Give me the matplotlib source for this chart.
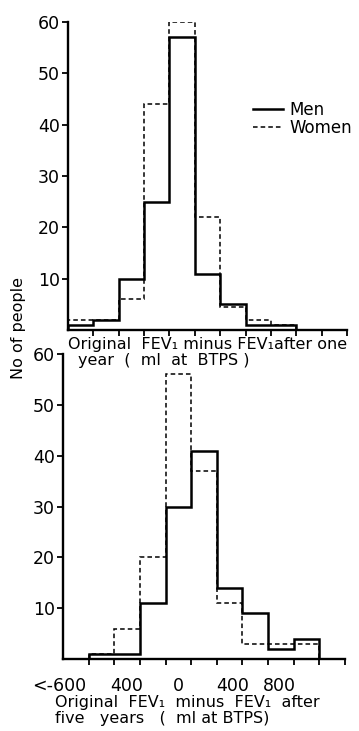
import matplotlib
matplotlib.use('Agg')
from matplotlib import pyplot as plt

# bin edges in ml (200 ml bins)
top_edges = [-900, -700, -500, -300, -100, 100, 300, 500, 700, 900]
top_men = [1, 2, 10, 25, 57, 11, 5, 1, 1]
top_women = [2, 2, 6, 44, 60, 22, 4.5, 2, 1]

bot_edges = [-700, -500, -300, -100, 100, 300, 500, 700, 900, 1100]
bot_men = [1, 1, 11, 30, 41, 14, 9, 2, 4]
bot_women = [1, 6, 20, 56, 37, 11, 3, 3, 3]

x_ticks = [-700, -500, -300, -100, 100, 300, 500, 700, 900, 1100, 1300]
x_labels_pos = [-930, -400, 0, 420, 790]
x_labels = ['<-600', '400', '0', '400', '800']
y_ticks = [10, 20, 30, 40, 50, 60]

plt.rcParams['font.family'] = ['DejaVu Sans']
fig = plt.figure(figsize=(3.59, 7.31), dpi=100)

ax1 = fig.add_axes([68 / 359, 1 - 330 / 731, (347 - 68) / 359, (330 - 22) / 731])
ax2 = fig.add_axes([63 / 359, 1 - 659 / 731, (345 - 63) / 359, (659 - 354) / 731])

for ax in (ax1, ax2):
    for s in ('top', 'right'):
        ax.spines[s].set_visible(False)
    ax.spines['left'].set_linewidth(1.7)
    ax.spines['bottom'].set_linewidth(1.7)
    ax.set_xlim(-900, 1300)
    ax.set_ylim(0, 60)
    ax.set_yticks(y_ticks)
    ax.tick_params(axis='both', width=1.3, length=4, labelsize=12.5, pad=2)
    ax.patch.set_visible(False)

dash = (0, (3, 2))
ax1.stairs(top_women, top_edges, color='black', lw=1.1, ls=dash)
ax1.stairs(top_men, top_edges, color='black', lw=1.8, label='Men')
ax1.set_xticks(x_ticks)
ax1.set_xticklabels([])
ax1.plot([], [], color='black', lw=1.1, ls=dash, label='Women')
handles, labels = ax1.get_legend_handles_labels()
ax1.legend(handles, labels, loc='upper left', bbox_to_anchor=(0.635, 0.772), frameon=False,
           fontsize=12, handlelength=1.75, handletextpad=0.4, labelspacing=0.0, borderpad=0)

ax2.stairs(bot_women, bot_edges, color='black', lw=1.1, ls=dash)
ax2.stairs(bot_men, bot_edges, color='black', lw=1.8)
ax2.set_xticks(x_ticks)
ax2.set_xticklabels([])
for p, t in zip(x_labels_pos, x_labels):
    ax2.text(p, -3.5, t, ha='center', va='top', fontsize=12.5)

fig.text(68 / 359, 1 - 345 / 731, 'Original  FEV\u2081 minus FEV\u2081after one', fontsize=11.5,
         ha='left', va='center')
fig.text(78 / 359, 1 - 360 / 731, 'year  (  ml  at  BTPS )', fontsize=11.5, ha='left', va='center')
fig.text(55 / 359, 1 - 702 / 731, 'Original  FEV\u2081  minus  FEV\u2081  after', fontsize=11.5,
         ha='left', va='center')
fig.text(55 / 359, 1 - 718 / 731, 'five   years   (  ml at BTPS)', fontsize=11.5, ha='left', va='center')

fig.text(19 / 359, 1 - 328 / 731, 'No of people', rotation=90, fontsize=11.5, ha='center', va='center')

fig.savefig('out.png', dpi=100)
